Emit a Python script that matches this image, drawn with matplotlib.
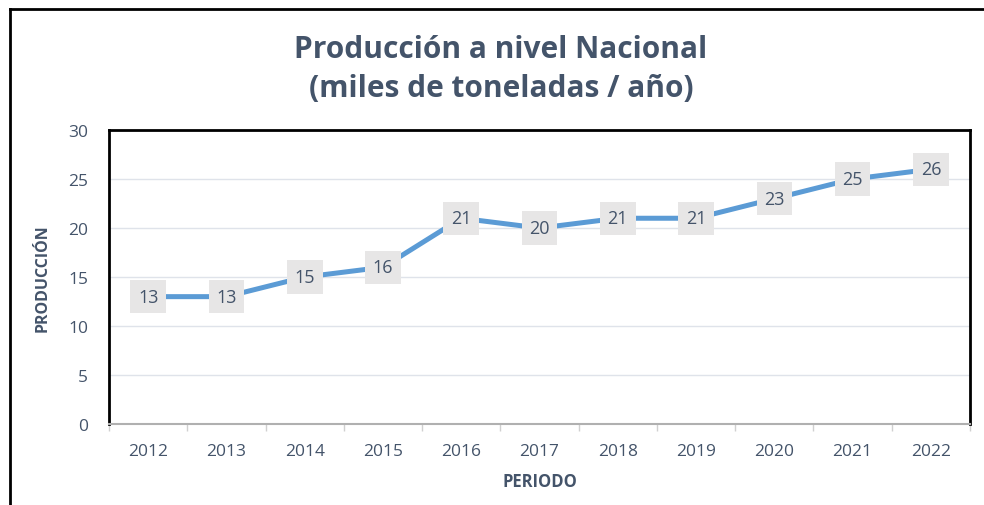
"""
Producción a nivel Nacional (miles de toneladas / año).
"""
import matplotlib
matplotlib.use("Agg")
import matplotlib.pyplot as plt
from matplotlib.lines import Line2D

years = ["2012", "2013", "2014", "2015", "2016", "2017",
         "2018", "2019", "2020", "2021", "2022"]
produccion = [13, 13, 15, 16, 21, 20, 21, 21, 23, 25, 26]

TEXT = "#44546a"
LINE = "#5b9bd5"

plt.rcParams["font.family"] = ["Open Sans", "DejaVu Sans"]


def main():
    fig = plt.figure(figsize=(9.84, 5.06), dpi=100)
    ax = fig.add_axes([0.1108, 0.160, 0.8750, 0.581])

    x = list(range(len(years)))
    ax.plot(x, produccion, color=LINE, linewidth=3.6, zorder=3,
            solid_capstyle="round")
    for xi, v in zip(x, produccion):
        ax.text(xi, v, str(v), ha="center", va="center", fontsize=13,
                color=TEXT, zorder=4,
                bbox=dict(boxstyle="square,pad=0.42", fc="#e7e6e6", ec="none"))

    ax.set_xlim(-0.5, len(years) - 0.5)
    ax.set_ylim(0, 30)
    ax.set_yticks(range(0, 31, 5))
    ax.set_xticks(x)
    ax.set_xticklabels(years)
    ax.set_xticks([i - 0.5 for i in range(len(years) + 1)], minor=True)
    ax.tick_params(axis="x", which="major", length=0, pad=14,
                   labelsize=12.5, labelcolor=TEXT)
    ax.tick_params(axis="x", which="minor", length=5, width=1,
                   color="#d0d0d0", direction="out")
    ax.tick_params(axis="y", length=0, pad=15, labelsize=12.5,
                   labelcolor=TEXT)
    ax.grid(axis="y", color="#dfe3ea", linewidth=1)
    ax.set_axisbelow(True)

    for side in ["left", "top", "right"]:
        ax.spines[side].set_color("black")
        ax.spines[side].set_linewidth(2)
    ax.spines["bottom"].set_color("#b0b0b0")
    ax.spines["bottom"].set_linewidth(1.5)

    ax.set_xlabel("PERIODO", fontsize=12, fontweight="bold", color=TEXT,
                  labelpad=9)
    ax.set_ylabel("PRODUCCIÓN", fontsize=11.5, fontweight="bold", color=TEXT,
                  labelpad=13)

    fig.text(0.509, 0.862, "Producción a nivel Nacional\n(miles de toneladas / año)",
             ha="center", va="center", fontsize=21.5, fontweight="bold",
             color=TEXT, linespacing=1.4)

    # marco exterior (izquierda y arriba)
    fig.add_artist(Line2D([0.0097, 0.0097], [0, 0.980], color="black",
                          linewidth=2, transform=fig.transFigure))
    fig.add_artist(Line2D([0.0097, 1.0], [0.980, 0.980], color="black",
                          linewidth=2, transform=fig.transFigure))

    fig.savefig("out.png", dpi=100)


if __name__ == '__main__':
    main()
